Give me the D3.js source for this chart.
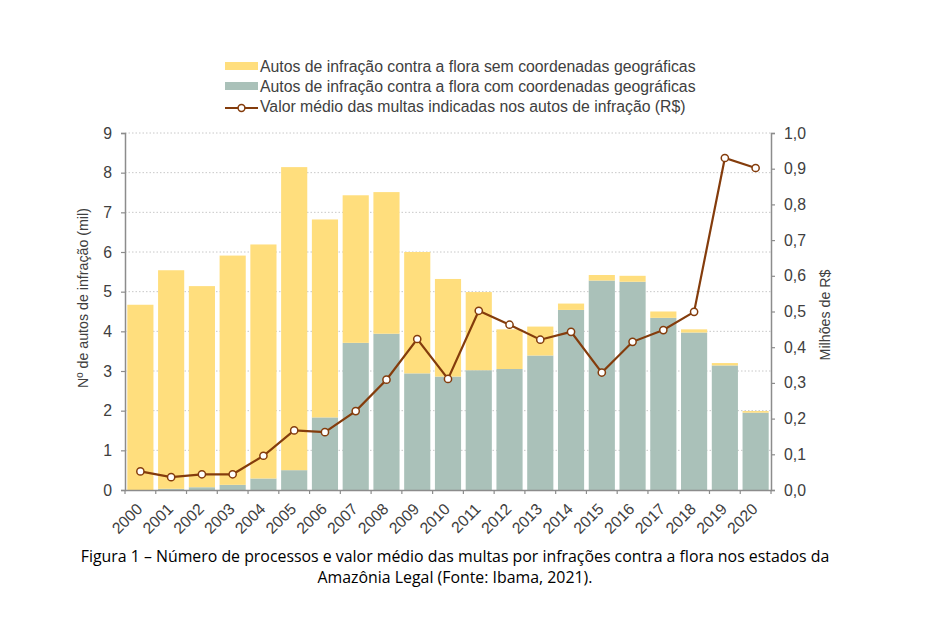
<!DOCTYPE html>
<html><head><meta charset="utf-8">
<script src="https://cdn.jsdelivr.net/npm/d3@7"></script>
<style>body{margin:0;background:#fff}svg{display:block}</style>
</head><body>
<svg id="c" width="936" height="632"></svg>
<script>
const years = ["2000","2001","2002","2003","2004","2005","2006","2007","2008","2009","2010","2011","2012","2013","2014","2015","2016","2017","2018","2019","2020"];
const comCoord = [0,0.03,0.07,0.13,0.29,0.50,1.83,3.71,3.94,2.94,2.86,3.02,3.05,3.39,4.54,5.28,5.25,4.34,3.97,3.14,1.95];
const semCoord = [4.67,5.51,5.07,5.78,5.90,7.64,4.99,3.72,3.57,3.06,2.46,1.97,1.00,0.73,0.16,0.14,0.15,0.16,0.08,0.06,0.04];
const valorMedio = [0.052,0.036,0.044,0.044,0.096,0.167,0.162,0.221,0.309,0.423,0.311,0.502,0.463,0.421,0.443,0.329,0.415,0.448,0.499,0.930,0.902];
const leftTicks = [0,1,2,3,4,5,6,7,8,9];
const rightTicks = [0,0.1,0.2,0.3,0.4,0.5,0.6,0.7,0.8,0.9,1.0];
const legendLabels = ["Autos de infração contra a flora sem coordenadas geográficas","Autos de infração contra a flora com coordenadas geográficas","Valor médio das multas indicadas nos autos de infração (R$)"];
const leftTitle = "Nº de autos de infração (mil)";
const rightTitle = "Milhões de R$";
const caption = ["Figura 1 – Número de processos e valor médio das multas por infrações contra a flora nos estados da","Amazônia Legal (Fonte: Ibama, 2021)."];

const cYellow = "#FFDE7D", cGreen = "#AAC1B9", cLine = "#843C0C", cAxis = "#8C8C8C", cText = "#404040";
const L = 125, R = 771, T = 133, B = 490;
const FS = "15.8px";
const svg = d3.select("#c");
const font = "'Liberation Sans', Arial, sans-serif";

const x = d3.scaleBand().domain(years).range([L, R]).paddingInner(0.15).paddingOuter(0.075);
const y = d3.scaleLinear().domain([0, 9]).range([B, T]);
const y2 = d3.scaleLinear().domain([0, 1]).range([B, T]);

function fit(sel, target) {
  const w = sel.node().getComputedTextLength();
  const f = parseFloat(sel.style("font-size"));
  const nf = f * target / w;
  sel.style("font-size", nf + "px");
  return nf;
}

// gridlines
svg.append("g").selectAll("line").data(leftTicks.filter(d => d > 0)).join("line")
  .attr("x1", L).attr("x2", R).attr("y1", d => y(d)).attr("y2", d => y(d))
  .attr("stroke", "#C8C8C8").attr("stroke-width", 1).attr("stroke-dasharray", "1.5,2");

// bars
const data = years.map((yr, i) => ({yr, g: comCoord[i], s: semCoord[i], v: valorMedio[i]}));
const bars = svg.append("g");
bars.selectAll("rect.g").data(data).join("rect").attr("class", "g")
  .attr("x", d => x(d.yr)).attr("width", x.bandwidth())
  .attr("y", d => y(d.g)).attr("height", d => y(0) - y(d.g)).attr("fill", cGreen);
bars.selectAll("rect.s").data(data).join("rect").attr("class", "s")
  .attr("x", d => x(d.yr)).attr("width", x.bandwidth())
  .attr("y", d => y(d.g + d.s)).attr("height", d => y(d.g) - y(d.g + d.s)).attr("fill", cYellow);

// axes
const axL = svg.append("g").attr("transform", `translate(${L},0)`)
  .call(d3.axisLeft(y).tickValues(leftTicks).tickSize(4).tickPadding(9).tickFormat(d3.format("d")));
const axR = svg.append("g").attr("transform", `translate(${R},0)`)
  .call(d3.axisRight(y2).tickValues(rightTicks).tickSize(4).tickPadding(9).tickFormat(d => d3.format(".1f")(d).replace(".", ",")));
const axB = svg.append("g").attr("transform", `translate(0,${B})`)
  .call(d3.axisBottom(x).tickSize(0).tickPadding(0));
[axL, axR, axB].forEach(a => {
  a.select(".domain").attr("stroke", cAxis).attr("stroke-width", 1.5);
  a.selectAll(".tick line").attr("stroke", cAxis).attr("stroke-width", 1.2);
  a.selectAll("text").attr("fill", cText).style("font-family", font).style("font-size", FS);
});
axB.selectAll(".tick text").attr("text-anchor", "end").attr("y", 0).attr("dy", 0)
  .attr("transform", "translate(3,20) rotate(-45)");
// x ticks at band boundaries
const bounds = years.map(yr => x(yr) - x.step() * x.paddingInner() / 2).concat([R]);
svg.append("g").selectAll("line").data(bounds).join("line")
  .attr("x1", d => d).attr("x2", d => d).attr("y1", B).attr("y2", B + 4)
  .attr("stroke", cAxis).attr("stroke-width", 1.2);

// line
const line = d3.line().x(d => x(d.yr) + x.bandwidth() / 2).y(d => y2(d.v));
svg.append("path").datum(data).attr("d", line).attr("fill", "none")
  .attr("stroke", cLine).attr("stroke-width", 2.2);
svg.append("g").selectAll("circle").data(data).join("circle")
  .attr("cx", d => x(d.yr) + x.bandwidth() / 2).attr("cy", d => y2(d.v)).attr("r", 3.6)
  .attr("fill", "#fff").attr("stroke", cLine).attr("stroke-width", 1.5);

// axis titles
const lt = svg.append("text").attr("transform", `translate(88,298) rotate(-90)`).attr("text-anchor", "middle")
  .attr("fill", cText).style("font-family", font).style("font-size", "15px").text(leftTitle);
const tfs = fit(lt, 180);
svg.append("text").attr("transform", `translate(830,315) rotate(-90)`).attr("text-anchor", "middle")
  .attr("fill", cText).style("font-family", font).style("font-size", tfs + "px").text(rightTitle);

// legend
const lg = svg.append("g");
const rows = [66, 86, 106];
lg.append("rect").attr("x", 225).attr("y", rows[0] - 4).attr("width", 33).attr("height", 8).attr("fill", cYellow);
lg.append("rect").attr("x", 225).attr("y", rows[1] - 4).attr("width", 33).attr("height", 8).attr("fill", cGreen);
lg.append("line").attr("x1", 225).attr("x2", 258).attr("y1", rows[2] + 2).attr("y2", rows[2] + 2).attr("stroke", cLine).attr("stroke-width", 2.2);
lg.append("circle").attr("cx", 241.5).attr("cy", rows[2] + 2).attr("r", 3.4).attr("fill", "#fff").attr("stroke", cLine).attr("stroke-width", 1.5);
lg.selectAll("text").data(legendLabels).join("text")
  .attr("x", 260).attr("y", (d, i) => rows[i]).attr("dy", "0.35em")
  .attr("fill", cText).style("font-family", font).style("font-size", FS).text(d => d);

// caption
const cap = svg.append("g");
cap.selectAll("text").data(caption).join("text")
  .attr("x", 455).attr("y", (d, i) => 562 + i * 21).attr("text-anchor", "middle")
  .attr("fill", "#000").style("font-family", "'Open Sans', sans-serif").style("font-size", "15px").text(d => d);
const w0 = cap.select("text").node().getComputedTextLength();
cap.selectAll("text").style("font-size", (15 * 749 / w0) + "px");
</script>
</body></html>
